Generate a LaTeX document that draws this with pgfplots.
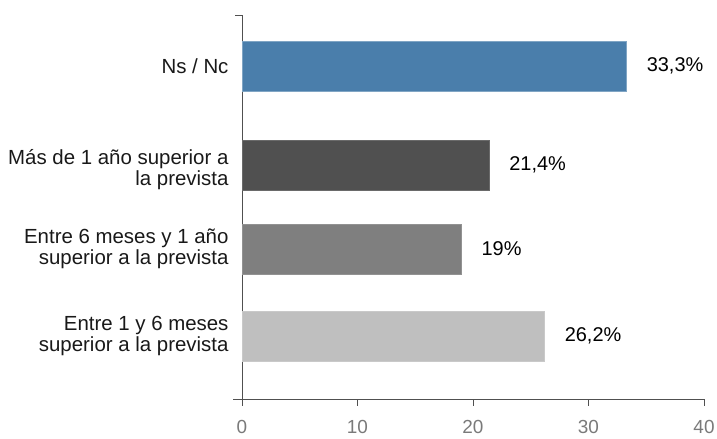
\documentclass[border=0pt]{standalone}
\usepackage{pgfplots}
\pgfplotsset{compat=1.18}
\usepackage{fontspec}
\setmainfont{Liberation Sans}
\definecolor{cblue}{HTML}{4A7EAB}
\definecolor{cdark}{HTML}{505050}
\definecolor{cmid}{HTML}{7F7F7F}
\definecolor{clight}{HTML}{BFBFBF}
\definecolor{axgray}{HTML}{505050}
\definecolor{tickgray}{HTML}{7A7A7A}
\begin{document}
\begin{tikzpicture}[x=1bp,y=1bp]
\path[use as bounding box] (-242,-40) rectangle (475,399);
\begin{axis}[
  at={(0,0)}, anchor=south west,
  scale only axis, width=462bp, height=384bp,
  xmin=0, xmax=40, ymin=0, ymax=384,
  axis lines*=left,
  axis line style={draw=axgray, line width=0.9pt},
  xtick={0,10,20,30,40},
  tick align=outside,
  major tick length=7bp,
  xtick style={draw=axgray, line width=0.9pt},
  ytick={63,150,229,333},
  yticklabels={{Entre 1 y 6 meses\\superior a la prevista},{Entre 6 meses y 1 año\\superior a la prevista},{Más de 1 año superior a\\la prevista},{Ns / Nc}},
  ytick style={draw=none},
  yticklabel style={align=right, font=\fontsize{20.5}{21}\selectfont, text=black!90, xshift=-3bp},
  xticklabel style={font=\fontsize{19}{20}\selectfont, text=tickgray, yshift=-11bp},
  /pgf/number format/assume math mode=true,
  clip=false,
  every node near coord/.style={anchor=west, inner sep=0pt, xshift=20bp, font=\fontsize{20}{21}\selectfont, text=black},
]
\addplot[xbar, bar shift=0pt, bar width=50, fill=cblue, draw=cblue!70!white, nodes near coords={33,3\%}] coordinates {(33.3,333)};
\addplot[xbar, bar shift=0pt, bar width=50, fill=cdark, draw=cdark!85!white, nodes near coords={21,4\%}] coordinates {(21.4,234)};
\addplot[xbar, bar shift=0pt, bar width=50, fill=cmid, draw=cmid!85!white, nodes near coords={19\%}] coordinates {(19,150)};
\addplot[xbar, bar shift=0pt, bar width=50, fill=clight, draw=clight!85!white, nodes near coords={26,2\%}] coordinates {(26.2,63)};
\draw[axgray, line width=0.9pt] (axis cs:0,384) -- ++(-7bp,0);
\draw[axgray, line width=0.9pt] (axis cs:0,0) -- ++(-9bp,0);
\end{axis}
\end{tikzpicture}
\end{document}
